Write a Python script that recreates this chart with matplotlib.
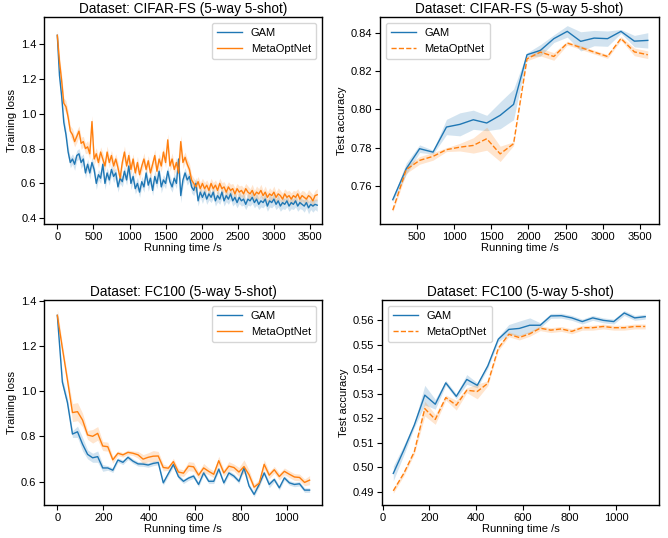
import matplotlib
matplotlib.use('Agg')
import matplotlib.pyplot as plt
import numpy as np

plt.rcParams['font.family'] = ['Liberation Sans', 'DejaVu Sans']

# CIFAR-FS training loss (every 30 s)
cifar_loss_time = list(range(0, 3601, 30))
cifar_loss_gam = [
    1.45, 1.22, 1.10, 0.95, 0.88, 0.78, 0.72, 0.74, 0.71, 0.76,
    0.77, 0.72, 0.74, 0.66, 0.71, 0.66, 0.72, 0.68, 0.60, 0.65,
    0.63, 0.71, 0.60, 0.66, 0.62, 0.68, 0.64, 0.66, 0.58, 0.63,
    0.61, 0.67, 0.62, 0.70, 0.60, 0.64, 0.57, 0.60, 0.55, 0.61,
    0.58, 0.66, 0.59, 0.63, 0.56, 0.64, 0.60, 0.67, 0.58, 0.62,
    0.60, 0.67, 0.61, 0.58, 0.63, 0.60, 0.74, 0.53, 0.62, 0.66,
    0.62, 0.64, 0.58, 0.56, 0.60, 0.50, 0.55, 0.52, 0.55, 0.51,
    0.54, 0.52, 0.55, 0.50, 0.53, 0.51, 0.55, 0.50, 0.53, 0.51,
    0.54, 0.50, 0.52, 0.49, 0.52, 0.50, 0.51, 0.48, 0.51, 0.50,
    0.52, 0.49, 0.51, 0.48, 0.50, 0.49, 0.51, 0.47, 0.50, 0.49,
    0.51, 0.48, 0.50, 0.47, 0.49, 0.48, 0.50, 0.47, 0.49, 0.48,
    0.50, 0.47, 0.49, 0.48, 0.47, 0.49, 0.46, 0.48, 0.47, 0.48,
    0.475]
cifar_loss_gam_std = [
    0.01, 0.035, 0.035, 0.035, 0.03, 0.03, 0.03, 0.03, 0.035, 0.03,
    0.03, 0.035, 0.03, 0.03, 0.03, 0.035, 0.03, 0.03, 0.035, 0.03,
    0.03, 0.03, 0.035, 0.03, 0.03, 0.03, 0.035, 0.03, 0.03, 0.03,
    0.03, 0.035, 0.03, 0.03, 0.035, 0.03, 0.03, 0.035, 0.03, 0.03,
    0.03, 0.03, 0.035, 0.03, 0.03, 0.035, 0.03, 0.03, 0.035, 0.03,
    0.03, 0.03, 0.035, 0.03, 0.03, 0.03, 0.04, 0.04, 0.035, 0.03,
    0.03, 0.03, 0.035, 0.03, 0.035, 0.03, 0.03, 0.035, 0.03, 0.03,
    0.035, 0.03, 0.035, 0.03, 0.035, 0.03, 0.035, 0.03, 0.035, 0.03,
    0.035, 0.03, 0.035, 0.03, 0.035, 0.03, 0.035, 0.03, 0.035, 0.03,
    0.035, 0.03, 0.035, 0.03, 0.035, 0.03, 0.035, 0.03, 0.035, 0.03,
    0.035, 0.03, 0.035, 0.03, 0.035, 0.03, 0.035, 0.03, 0.035, 0.03,
    0.035, 0.03, 0.035, 0.03, 0.035, 0.03, 0.035, 0.03, 0.035, 0.03,
    0.035]
cifar_loss_meta = [
    1.45, 1.30, 1.19, 1.06, 1.04, 0.98, 0.90, 0.88, 0.84, 0.87,
    0.90, 0.83, 0.84, 0.80, 0.81, 0.77, 0.955, 0.74, 0.77, 0.72,
    0.78, 0.74, 0.70, 0.78, 0.72, 0.76, 0.70, 0.74, 0.69, 0.63,
    0.72, 0.78, 0.70, 0.76, 0.68, 0.74, 0.66, 0.72, 0.65, 0.70,
    0.74, 0.68, 0.73, 0.66, 0.71, 0.76, 0.67, 0.74, 0.70, 0.78,
    0.72, 0.85, 0.70, 0.74, 0.68, 0.72, 0.66, 0.84, 0.72, 0.75,
    0.71, 0.68, 0.62, 0.60, 0.58, 0.61, 0.57, 0.60, 0.57, 0.59,
    0.56, 0.60, 0.57, 0.59, 0.56, 0.60, 0.57, 0.58, 0.55, 0.58,
    0.56, 0.57, 0.54, 0.57, 0.55, 0.56, 0.54, 0.57, 0.55, 0.54,
    0.56, 0.53, 0.55, 0.54, 0.56, 0.53, 0.55, 0.52, 0.54, 0.53,
    0.55, 0.52, 0.54, 0.53, 0.51, 0.54, 0.52, 0.53, 0.51, 0.53,
    0.52, 0.54, 0.51, 0.53, 0.52, 0.51, 0.53, 0.52, 0.50, 0.53,
    0.535]
cifar_loss_meta_std = [
    0.035, 0.035, 0.035, 0.03, 0.035, 0.035, 0.03, 0.035, 0.03, 0.035,
    0.03, 0.035, 0.03, 0.03, 0.035, 0.03, 0.035, 0.03, 0.035, 0.03,
    0.03, 0.035, 0.03, 0.035, 0.03, 0.03, 0.035, 0.03, 0.035, 0.03,
    0.03, 0.035, 0.03, 0.03, 0.035, 0.03, 0.03, 0.035, 0.03, 0.03,
    0.035, 0.03, 0.03, 0.035, 0.03, 0.035, 0.03, 0.03, 0.035, 0.03,
    0.03, 0.035, 0.03, 0.035, 0.03, 0.03, 0.035, 0.035, 0.035, 0.03,
    0.03, 0.035, 0.03, 0.03, 0.035, 0.03, 0.035, 0.03, 0.035, 0.03,
    0.035, 0.03, 0.035, 0.03, 0.035, 0.03, 0.035, 0.03, 0.035, 0.03,
    0.035, 0.03, 0.035, 0.03, 0.035, 0.03, 0.035, 0.03, 0.035, 0.03,
    0.035, 0.03, 0.035, 0.03, 0.035, 0.03, 0.035, 0.03, 0.035, 0.03,
    0.035, 0.03, 0.035, 0.03, 0.035, 0.03, 0.035, 0.03, 0.035, 0.03,
    0.035, 0.03, 0.035, 0.03, 0.035, 0.03, 0.035, 0.03, 0.035, 0.03,
    0.035]

# CIFAR-FS test accuracy
cifar_acc_time = [180, 360, 540, 720, 900, 1080, 1260, 1440, 1620, 1800,
                  1980, 2160, 2340, 2520, 2700, 2880, 3060, 3240, 3420, 3600]
cifar_acc_gam = [0.7529, 0.7690, 0.7795, 0.7777, 0.7908, 0.7922, 0.7946, 0.7929, 0.7969, 0.8026,
                 0.8285, 0.8308, 0.8369, 0.8407, 0.8355, 0.8372, 0.8369, 0.8407, 0.8356, 0.8360]
cifar_acc_gam_std = [0.001, 0.003, 0.002, 0.001, 0.004, 0.006, 0.005, 0.004, 0.007, 0.008,
                     0.001, 0.003, 0.002, 0.003, 0.005, 0.004, 0.004, 0.001, 0.003, 0.004]
cifar_acc_meta = [0.7474, 0.7686, 0.7734, 0.7755, 0.7790, 0.7803, 0.7812, 0.7847, 0.7768, 0.7821,
                  0.8264, 0.8299, 0.8276, 0.8346, 0.8323, 0.8299, 0.8276, 0.8370, 0.8300, 0.8285]
cifar_acc_meta_std = [0.001, 0.002, 0.002, 0.002, 0.001, 0.002, 0.004, 0.006, 0.004, 0.001,
                      0.001, 0.002, 0.002, 0.001, 0.001, 0.001, 0.001, 0.001, 0.002, 0.002]

# FC100 training loss
fc_loss_time = list(range(0, 1101, 22))
fc_loss_gam = [
    1.335, 1.04, 0.95, 0.81, 0.82, 0.765, 0.72, 0.705, 0.71, 0.66,
    0.66, 0.65, 0.695, 0.685, 0.707, 0.69, 0.678, 0.677, 0.673, 0.68,
    0.684, 0.594, 0.635, 0.675, 0.622, 0.601, 0.615, 0.624, 0.587, 0.638,
    0.601, 0.601, 0.655, 0.594, 0.638, 0.624, 0.601, 0.66, 0.58, 0.543,
    0.587, 0.638, 0.587, 0.609, 0.572, 0.616, 0.594, 0.587, 0.59, 0.562,
    0.562]
fc_loss_gam_std = [
    0.01, 0.02, 0.02, 0.015, 0.025, 0.03, 0.02, 0.02, 0.025, 0.015,
    0.01, 0.01, 0.01, 0.01, 0.01, 0.01, 0.01, 0.01, 0.01, 0.01,
    0.01, 0.01, 0.01, 0.01, 0.01, 0.01, 0.01, 0.01, 0.01, 0.01,
    0.01, 0.01, 0.01, 0.01, 0.01, 0.01, 0.01, 0.01, 0.01, 0.01,
    0.01, 0.01, 0.015, 0.01, 0.01, 0.01, 0.01, 0.01, 0.01, 0.01,
    0.01]
fc_loss_meta = [
    1.335, 1.19, 1.05, 0.905, 0.909, 0.872, 0.806, 0.80, 0.813, 0.757,
    0.754, 0.696, 0.725, 0.718, 0.729, 0.725, 0.718, 0.699, 0.707, 0.712,
    0.713, 0.662, 0.659, 0.688, 0.642, 0.637, 0.668, 0.665, 0.628, 0.66,
    0.645, 0.632, 0.692, 0.638, 0.668, 0.662, 0.642, 0.666, 0.63, 0.575,
    0.592, 0.676, 0.628, 0.652, 0.622, 0.645, 0.632, 0.62, 0.618, 0.596,
    0.606]
fc_loss_meta_std = [
    0.03, 0.02, 0.02, 0.04, 0.04, 0.03, 0.02, 0.03, 0.03, 0.02,
    0.02, 0.015, 0.01, 0.01, 0.01, 0.01, 0.015, 0.02, 0.02, 0.025,
    0.02, 0.015, 0.01, 0.015, 0.015, 0.015, 0.02, 0.02, 0.015, 0.02,
    0.015, 0.015, 0.02, 0.015, 0.02, 0.015, 0.02, 0.03, 0.02, 0.015,
    0.015, 0.02, 0.015, 0.015, 0.015, 0.015, 0.015, 0.015, 0.015, 0.015,
    0.02]

# FC100 test accuracy
fc_acc_time = [45, 90, 135, 180, 225, 270, 315, 360, 405, 450, 495, 540, 585,
               630, 675, 720, 765, 810, 855, 900, 945, 990, 1035, 1080, 1125]
fc_acc_gam = [0.4976, 0.5071, 0.5173, 0.5295, 0.5258, 0.5345, 0.5290, 0.5359, 0.5335, 0.5414,
              0.5523, 0.5563, 0.5567, 0.5580, 0.5580, 0.5618, 0.5619, 0.5610, 0.5595, 0.5610,
              0.5600, 0.5595, 0.5630, 0.5610, 0.5615]
fc_acc_gam_std = [0.003, 0.002, 0.001, 0.004, 0.002, 0.001, 0.001, 0.002, 0.001, 0.001,
                  0.001, 0.002, 0.003, 0.003, 0.001, 0.001, 0.001, 0.001, 0.001, 0.001,
                  0.001, 0.001, 0.001, 0.001, 0.001]
fc_acc_meta = [0.4905, 0.4976, 0.5064, 0.5240, 0.5196, 0.5285, 0.5254, 0.5315, 0.5310, 0.5343,
               0.5486, 0.5543, 0.5530, 0.5545, 0.5568, 0.5560, 0.5565, 0.5555, 0.5570, 0.5570,
               0.5575, 0.5570, 0.5570, 0.5575, 0.5575]
fc_acc_meta_std = [0.001, 0.001, 0.001, 0.003, 0.002, 0.001, 0.002, 0.001, 0.003, 0.001,
                   0.001, 0.001, 0.001, 0.001, 0.001, 0.001, 0.001, 0.001, 0.001, 0.001,
                   0.001, 0.001, 0.001, 0.001, 0.001]

blue = '#1f77b4'
orange = '#ff7f0e'


def draw(ax, t, gam, gam_std, meta, meta_std, meta_ls, ylabel, title, loc):
    t = np.array(t)
    for vals, std, col, ls, name in [(gam, gam_std, blue, '-', 'GAM'),
                                     (meta, meta_std, orange, meta_ls, 'MetaOptNet')]:
        v = np.array(vals)
        s = np.array(std)
        ax.fill_between(t, v - s, v + s, color=col, alpha=0.2, lw=0)
        ax.plot(t, v, color=col, ls=ls, lw=1.0, label=name)
    ax.set_title(title, fontsize=9.8, pad=3)
    ax.set_xlabel('Running time /s', fontsize=8, labelpad=1)
    ax.set_ylabel(ylabel, fontsize=8, labelpad=3)
    ax.tick_params(labelsize=8, length=3.5, width=0.8, pad=2)
    for sp in ax.spines.values():
        sp.set_color('black')
        sp.set_linewidth(1.0)
    ax.legend(loc=loc, fontsize=8, handlelength=2.2, borderpad=0.5)


fig = plt.figure(figsize=(6.68, 5.38), dpi=100)
ax1 = fig.add_axes([0.0659, 0.5836, 0.4161, 0.3848])
ax2 = fig.add_axes([0.569, 0.5836, 0.4175, 0.3848])
ax3 = fig.add_axes([0.0659, 0.0613, 0.4161, 0.3811])
ax4 = fig.add_axes([0.572, 0.0613, 0.4145, 0.3811])

draw(ax1, cifar_loss_time, cifar_loss_gam, cifar_loss_gam_std, cifar_loss_meta, cifar_loss_meta_std,
     '-', 'Training loss', 'Dataset: CIFAR-FS (5-way 5-shot)', 'upper right')
ax1.set_xlim(-184, 3666)
ax1.set_ylim(0.367, 1.555)
ax1.set_xticks(range(0, 3501, 500))
ax1.set_yticks([0.4, 0.6, 0.8, 1.0, 1.2, 1.4])

draw(ax2, cifar_acc_time, cifar_acc_gam, cifar_acc_gam_std, cifar_acc_meta, cifar_acc_meta_std,
     '--', 'Test accuracy', 'Dataset: CIFAR-FS (5-way 5-shot)', 'upper left')
ax2.set_xlim(10, 3750)
ax2.set_ylim(0.7402, 0.8482)
ax2.set_xticks(range(500, 3501, 500))
ax2.set_yticks([0.76, 0.78, 0.80, 0.82, 0.84])

draw(ax3, fc_loss_time, fc_loss_gam, fc_loss_gam_std, fc_loss_meta, fc_loss_meta_std,
     '-', 'Training loss', 'Dataset: FC100 (5-way 5-shot)', 'upper right')
ax3.set_xlim(-58, 1154)
ax3.set_ylim(0.496, 1.403)
ax3.set_xticks(range(0, 1001, 200))
ax3.set_yticks([0.6, 0.8, 1.0, 1.2, 1.4])

draw(ax4, fc_acc_time, fc_acc_gam, fc_acc_gam_std, fc_acc_meta, fc_acc_meta_std,
     '--', 'Test accuracy', 'Dataset: FC100 (5-way 5-shot)', 'upper left')
ax4.set_xlim(-3, 1184)
ax4.set_ylim(0.4847, 0.5683)
ax4.set_xticks(range(0, 1001, 200))
ax4.set_yticks([0.49, 0.50, 0.51, 0.52, 0.53, 0.54, 0.55, 0.56])

fig.savefig('out.png', dpi=100)
